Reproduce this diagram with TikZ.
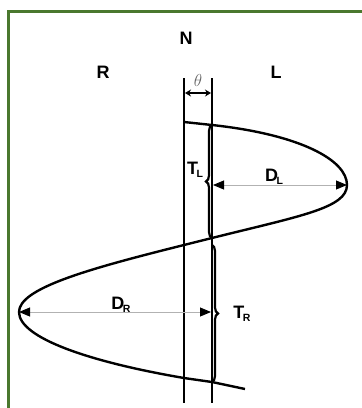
\documentclass[tikz,border=0pt]{standalone}
\usepackage{fontspec}
\setsansfont{Liberation Sans}
\usetikzlibrary{arrows.meta,decorations.pathreplacing}
\definecolor{framegreen}{RGB}{74,120,46}
\newcommand{\sublbl}[2]{#1\kern-1.5pt{\fontsize{10.5}{10.5}\selectfont\raisebox{-3pt}{#2}}}
\tikzset{
  lbl/.style={font=\sffamily\bfseries\fontsize{18}{20}\selectfont,inner sep=0pt},
  axis line/.style={line width=1.7pt},
  wave/.style={line width=2.4pt},
  twist/.style={line width=2.2pt,decorate,decoration={brace,amplitude=6pt}},
  dim/.style={draw=gray!60,line width=0.9pt,
    {Triangle[length=11pt,width=9pt,color=black]}-{Triangle[length=11pt,width=9pt,color=black]}}
}
\begin{document}
\begin{tikzpicture}[x=1pt,y=-1pt]
	\useasboundingbox (0,0) rectangle (362,408);
	% frame
	\draw[framegreen,line width=3pt] (8,408) -- (8,11) -- (362,11);
	% axis lines
	\coordinate (lt) at (184,78);
	\coordinate (lb) at (184,403);
	\coordinate (rt) at (212,78);
	\coordinate (rb) at (212,403);
	\draw[axis line] (lt) -- (lb);
	\draw[axis line] (rt) -- (rb);
	% points on the strand
	\coordinate (a0) at (184,122);
	\coordinate (a1) at (212,125);
	\coordinate (tipL) at (347,185);
	\coordinate (a2) at (212,238);
	\coordinate (a3) at (184,245);
	\coordinate (tipR) at (19,312);
	\coordinate (a4) at (184,378);
	\coordinate (a5) at (212,382);
	\coordinate (a6) at (245,389);
	\draw[wave] (a0) -- (a1)
		.. controls (300,134.5) and (347,160) .. (tipL)
		.. controls (347,208) and (300,216) .. (a2) -- (a3)
		.. controls (90,268.5) and (19,288) .. (tipR)
		.. controls (19,338) and (90,362) .. (a4) -- (a5) -- (a6);
	% braces
	\draw[twist] (a2) -- (a1);
	\draw[twist] (212,245) -- (a5);
	% widths
	\coordinate (dl) at (213,185);
	\coordinate (dr) at (211,312);
	\draw[dim] (dl) -- (tipL);
	\draw[dim] (tipR) -- (dr);
	% angle
	\coordinate (th1) at (185,93);
	\coordinate (th2) at (211,93);
	\draw[line width=1.8pt,{Stealth[length=6pt,width=7pt]}-{Stealth[length=6pt,width=7pt]}] (th1) -- (th2);
	% labels
	\node[lbl] (n) at (186,38) {N};
	\node[lbl] (r) at (103,72) {R};
	\node[lbl] (l) at (276,72) {L};
	\node[text=gray!80!black,font=\fontsize{16}{17}\selectfont,inner sep=0pt] (theta) at (198,80) {$\theta$};
	\node[lbl] (tl) at (195,170) {\sublbl{T}{L}};
	\node[lbl] (dln) at (274,177) {\sublbl{D}{L}};
	\node[lbl] (drn) at (121,305) {\sublbl{D}{R}};
	\node[lbl] (tr) at (242,314) {\sublbl{T}{R}};
\end{tikzpicture}
\end{document}
